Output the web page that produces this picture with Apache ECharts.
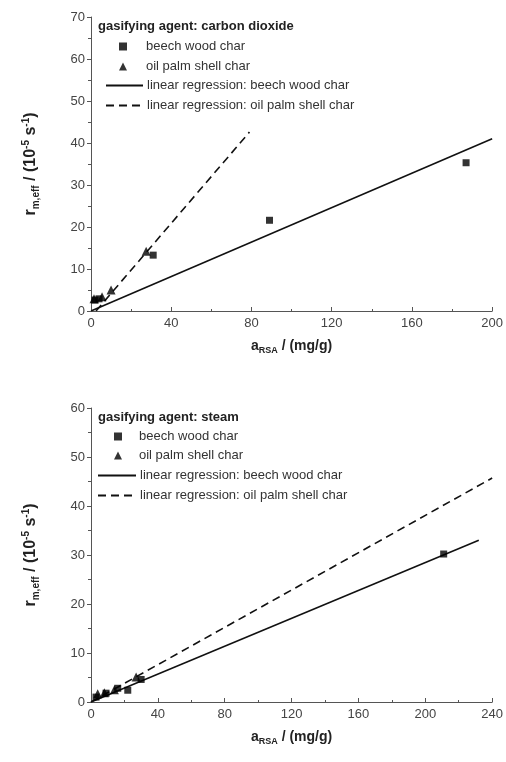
<!DOCTYPE html>
<html>
<head>
<meta charset="utf-8">
<script src="https://cdn.jsdelivr.net/npm/echarts@6/dist/echarts.min.js"></script>
<style>
html,body{margin:0;padding:0;background:#fff;}
#c{width:506px;height:762px;}
</style>
</head>
<body>
<div id="c"></div>
<script>
// ---- data ----
// top chart: gasifying agent carbon dioxide
var co2Beech = [[2, 2.6], [4, 2.9], [31, 13.3], [89, 21.6], [187, 35.3]];
var co2Palm = [[1.5, 2.9], [5.5, 3.4], [10, 5.0], [27.5, 14.2]];
var co2BeechFit = [[0, 0], [200, 41]];
var co2PalmFit = [[2.5, 0], [79, 42.6]];
// bottom chart: gasifying agent steam
var stBeech = [[3, 1.0], [9, 1.8], [16, 2.8], [22, 2.4], [30, 4.6], [211, 30.2]];
var stPalm = [[4, 1.7], [8, 1.9], [14, 2.5], [27, 5.1]];
var stBeechFit = [[0, 0], [232, 33]];
var stPalmFit = [[0, 0], [240, 45.7]];
// axes
var xTop = {min: 0, max: 200, interval: 40};
var yTop = {min: 0, max: 70, interval: 10};
var xBot = {min: 0, max: 240, interval: 40};
var yBot = {min: 0, max: 60, interval: 10};
var titles = ['gasifying agent: carbon dioxide', 'gasifying agent: steam'];
var names = ['beech wood char', 'oil palm shell char',
             'linear regression: beech wood char', 'linear regression: oil palm shell char'];

var FONT = '"Liberation Sans", Arial, sans-serif';
var axisColor = '#555';
var ink = '#000';

function xAxis(idx, r) {
  return {
    type: 'value', gridIndex: idx, min: r.min, max: r.max, interval: r.interval,
    name: '{b|a}{s|RSA}{b| / (mg/g)}', nameLocation: 'middle', nameGap: 26,
    nameTextStyle: {rich: {
      b: {fontSize: 14, fontWeight: 'bold', color: '#222', fontFamily: FONT},
      s: {fontSize: 9, fontWeight: 'bold', color: '#222', fontFamily: FONT, padding: [9, 0, 0, 0]}
    }},
    axisLine: {lineStyle: {color: axisColor, width: 1}},
    axisTick: {inside: true, length: 4, lineStyle: {color: axisColor}},
    minorTick: {show: true, splitNumber: 2, length: 2, lineStyle: {color: axisColor}},
    axisLabel: {color: '#444', fontSize: 13, fontFamily: FONT, margin: 6, showMaxLabel: true},
    splitLine: {show: false}
  };
}
function yAxis(idx, r) {
  return {
    type: 'value', gridIndex: idx, min: r.min, max: r.max, interval: r.interval,
    name: '{b|r}{s|m,eff}{b| / (10}{p|-5}{b| s}{p|-1}{b|)}', nameLocation: 'middle', nameGap: 50,
    nameTextStyle: {rich: {
      b: {fontSize: 16, fontWeight: 'bold', color: '#222', fontFamily: FONT},
      s: {fontSize: 10, fontWeight: 'bold', color: '#222', fontFamily: FONT, padding: [10, 0, 0, 0]},
      p: {fontSize: 10, fontWeight: 'bold', color: '#222', fontFamily: FONT, padding: [0, 0, 10, 0]}
    }},
    axisLine: {show: true, lineStyle: {color: axisColor, width: 1}},
    axisTick: {show: true, inside: false, length: 4, lineStyle: {color: axisColor}},
    minorTick: {show: true, splitNumber: 2, length: 3, lineStyle: {color: axisColor}},
    axisLabel: {color: '#444', fontSize: 13, fontFamily: FONT, margin: 6},
    splitLine: {show: false}
  };
}
function series(idx, beech, palm, bFit, pFit) {
  return [
    {name: names[0], type: 'scatter', xAxisIndex: idx, yAxisIndex: idx, data: beech,
     symbol: 'rect', symbolSize: 7, itemStyle: {color: ink}, z: 5},
    {name: names[1], type: 'scatter', xAxisIndex: idx, yAxisIndex: idx, data: palm,
     symbol: 'triangle', symbolSize: 9, itemStyle: {color: ink}, z: 5},
    {name: names[2], type: 'line', xAxisIndex: idx, yAxisIndex: idx, data: bFit,
     symbol: 'none', lineStyle: {color: '#111', width: 1.6, type: 'solid'}, itemStyle: {color: '#111'}},
    {name: names[3], type: 'line', xAxisIndex: idx, yAxisIndex: idx, data: pFit,
     symbol: 'none', lineStyle: {color: '#111', width: 1.6, type: [8, 5]}, itemStyle: {color: '#111'}}
  ];
}
function legendRow(name, isMarker, markerX, lineX, cy, textX) {
  var w = isMarker ? 8 : (textX - 4 - lineX);
  var left = isMarker ? markerX - 4 : lineX;
  var pad = textX - (left + w + 5);
  var lg = {
    show: true, orient: 'vertical', left: left, top: cy - 7, padding: 0,
    itemWidth: w, itemHeight: isMarker ? 8 : 14,
    selectedMode: false,
    data: [{name: name, icon: isMarker ? (name === names[0] ? 'rect' : 'triangle') : undefined}],
    textStyle: {fontSize: 13, color: '#333', fontFamily: FONT, padding: [0, 0, 0, pad]}
  };
  if (!isMarker) {
    lg.itemStyle = {color: 'rgba(0,0,0,0)', borderColor: 'rgba(0,0,0,0)', borderWidth: 0};
  }
  return lg;
}
var legends = [];
var topRows = [47, 67, 86, 106], botRows = [437, 456, 476, 496];
for (var i = 0; i < 4; i++) {
  legends.push(legendRow(names[i], i < 2, 123, 105, topRows[i], 146));
  legends.push(legendRow(names[i], i < 2, 118, 97, botRows[i], 139));
}

var option = {
  animation: false,
  backgroundColor: '#fff',
  textStyle: {fontFamily: FONT},
  title: [
    {text: titles[0], left: 98, top: 20, padding: 0,
     textStyle: {fontSize: 13, fontWeight: 'bold', color: '#222', fontFamily: FONT}},
    {text: titles[1], left: 98, top: 411, padding: 0,
     textStyle: {fontSize: 13, fontWeight: 'bold', color: '#222', fontFamily: FONT}}
  ],
  legend: legends,
  grid: [
    {left: 91, top: 17, width: 402, height: 294},
    {left: 91, top: 408, width: 402, height: 294}
  ],
  xAxis: [xAxis(0, xTop), xAxis(1, xBot)],
  yAxis: [yAxis(0, yTop), yAxis(1, yBot)],
  series: series(0, co2Beech, co2Palm, co2BeechFit, co2PalmFit)
    .concat(series(1, stBeech, stPalm, stBeechFit, stPalmFit))
};
var chart = echarts.init(document.getElementById('c'), null, {renderer: 'canvas'});
chart.setOption(option);
</script>
</body>
</html>
